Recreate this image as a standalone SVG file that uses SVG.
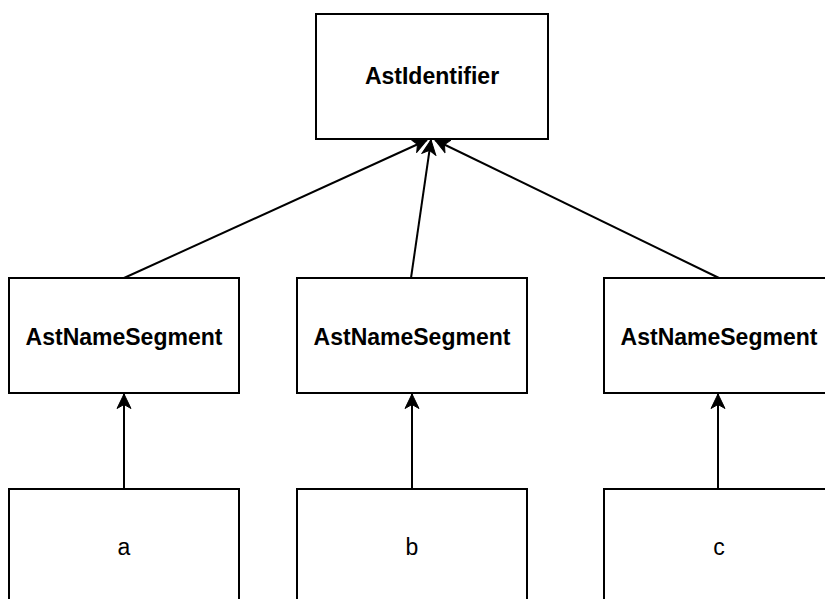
<svg xmlns="http://www.w3.org/2000/svg" width="825" height="599" viewBox="0 0 825 599">
<style>
.box{fill:#fff;stroke:#000;stroke-width:2}
.lbl{font-family:"Liberation Sans",Arial,Helvetica,sans-serif;font-size:23px;text-anchor:middle;fill:#000}
.b{font-weight:bold}
.edge{stroke:#000;stroke-width:2;fill:none;marker-end:url(#arr)}
</style>
<defs>
<marker id="arr" markerUnits="userSpaceOnUse" markerWidth="16" markerHeight="16" viewBox="0 0 16 16" refX="15" refY="8" orient="auto">
<path d="M0.5,1 L15,8 L0.5,15 L4.5,8 Z" fill="#000" stroke="#000" stroke-width="1"/>
</marker>
</defs>
<rect width="825" height="599" fill="#fff"/>
<g id="connectors">
<line class="edge" x1="124" y1="278" x2="427" y2="140"/>
<line class="edge" x1="411" y1="278" x2="431" y2="140"/>
<line class="edge" x1="719" y1="278" x2="435" y2="140"/>
<line class="edge" x1="124" y1="489" x2="124" y2="394"/>
<line class="edge" x1="412" y1="489" x2="412" y2="394"/>
<line class="edge" x1="718" y1="489" x2="718" y2="394"/>
</g>
<g id="astidentifier">
<rect class="box" x="316" y="14" width="232" height="125"/>
<text class="lbl b" x="432" y="84">AstIdentifier</text>
</g>
<g id="seg1">
<rect class="box" x="9" y="278" width="230" height="115"/>
<text class="lbl b" x="124" y="345">AstNameSegment</text>
</g>
<g id="seg2">
<rect class="box" x="297" y="278" width="230" height="115"/>
<text class="lbl b" x="412" y="345">AstNameSegment</text>
</g>
<g id="seg3">
<rect class="box" x="604" y="278" width="230" height="115"/>
<text class="lbl b" x="719" y="345">AstNameSegment</text>
</g>
<g id="a">
<rect class="box" x="9" y="489" width="230" height="115"/>
<text class="lbl" x="124" y="555">a</text>
</g>
<g id="b">
<rect class="box" x="297" y="489" width="230" height="115"/>
<text class="lbl" x="412" y="555">b</text>
</g>
<g id="c">
<rect class="box" x="604" y="489" width="230" height="115"/>
<text class="lbl" x="719" y="555">c</text>
</g>
</svg>
